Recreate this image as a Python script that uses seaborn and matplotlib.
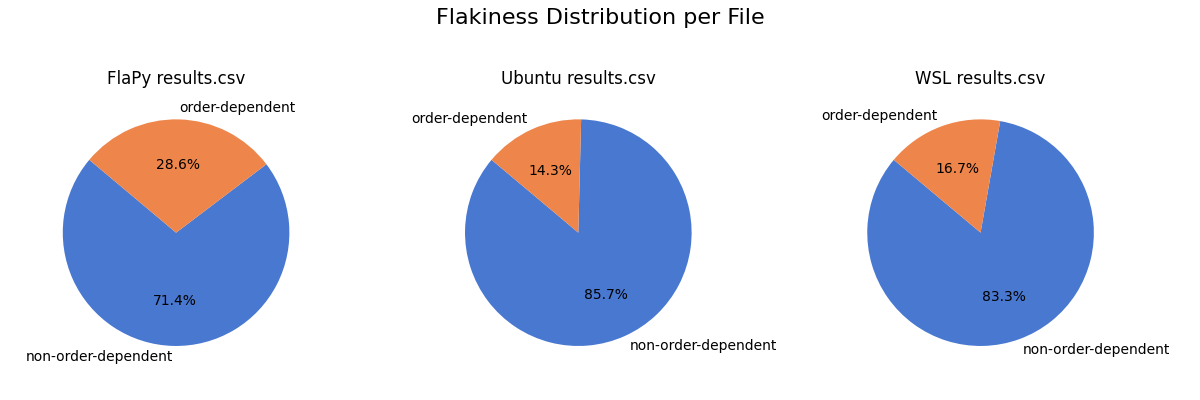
import matplotlib
matplotlib.use("Agg")
import matplotlib.pyplot as plt
import seaborn as sns

files = ["FlaPy results.csv", "Ubuntu results.csv", "WSL results.csv"]
categories = ["non-order-dependent", "order-dependent"]
non_order_dependent = [5, 6, 5]
order_dependent = [2, 1, 1]

colors = sns.color_palette("muted", 2)

fig, axes = plt.subplots(1, 3, figsize=(12, 4), dpi=100)
for ax, name, nod, od in zip(axes, files, non_order_dependent, order_dependent):
    ax.pie([nod, od], labels=categories, colors=colors, autopct="%1.1f%%",
           startangle=140, textprops={"fontsize": 10})
    ax.set_title(name, fontsize=12)
    ax.axis("equal")
fig.suptitle("Flakiness Distribution per File", fontsize=16)
fig.tight_layout(rect=[0, 0.03, 1, 0.95])
fig.savefig("out.png")
